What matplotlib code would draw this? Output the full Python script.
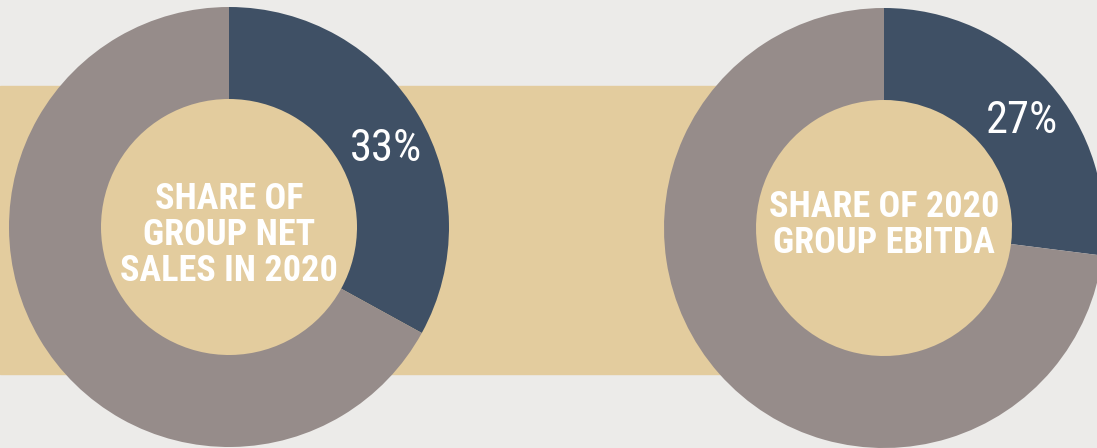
import matplotlib.pyplot as plt
from matplotlib.patches import Rectangle, Circle

# chart data
shares = [33, 27]
pct_labels = ['33%', '27%']
titles = ['SHARE OF\nGROUP NET\nSALES IN 2020', 'SHARE OF 2020\nGROUP EBITDA']

# colours
BG = '#ECEBE9'
TAN = '#E3CC9E'
BLUE = '#3F5065'
GREY = '#968C8A'

W, H = 1097, 448
fig = plt.figure(figsize=(W / 100, H / 100), dpi=100, facecolor=BG)
ax = fig.add_axes([0, 0, 1, 1])
ax.set_facecolor(BG)

font = ['Roboto Condensed', 'DejaVu Sans']

# tan band behind the left donut
ax.add_patch(Rectangle((0, H - 374), 760, 288, color=TAN, zorder=0))

centers = [(229, H - 227), (884, H - 228)]
title_pos = [(229, H - 235), (884, H - 225)]
label_pos = [(386, H - 149), (1022, H - 121)]
for share, pct, title, c, tp, lp in zip(shares, pct_labels, titles,
                                        centers, title_pos, label_pos):
    ax.pie([share, 100 - share], colors=[BLUE, GREY], radius=220, center=c,
           startangle=90, counterclock=False,
           wedgeprops=dict(width=92, linewidth=0), frame=True)
    ax.add_patch(Circle(c, 128, color=TAN, zorder=0.5))
    ax.text(lp[0], lp[1], pct, color='white', fontsize=32, family=font,
            fontstretch='condensed', fontweight='normal',
            ha='center', va='center', zorder=5)
    ax.text(tp[0], tp[1], title, color='white', fontsize=26, family=font,
            fontweight='bold', fontstretch='condensed',
            ha='center', va='center', linespacing=1.01, zorder=5)

ax.set_xlim(0, W)
ax.set_ylim(0, H)
ax.set_aspect('auto')
ax.set_axis_off()

fig.savefig('out.png', dpi=100, facecolor=BG)
